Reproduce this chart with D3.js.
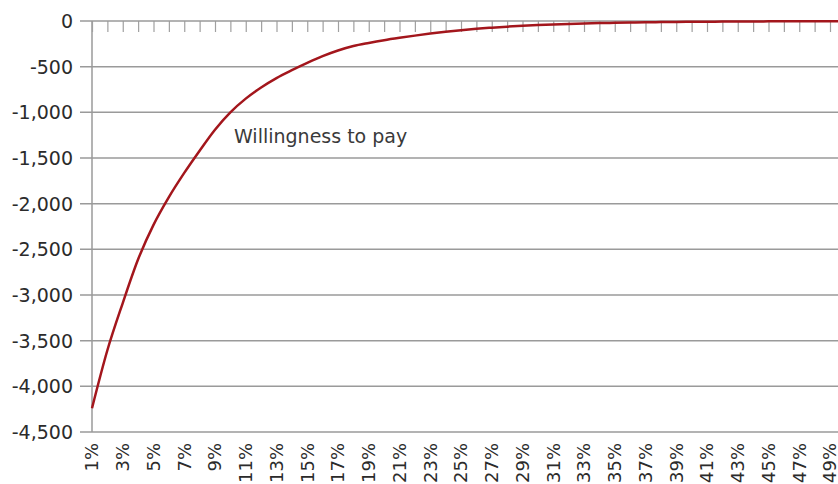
<!DOCTYPE html>
<html lang="en">
  <head>
    <meta charset="UTF-8" />
    <title>Willingness to pay</title>
    <script src="https://d3js.org/d3.v7.min.js"></script>
    <style>
      body {
        margin: 0;
        background: #fff;
      }
      svg {
        display: block;
        font-family: "DejaVu Sans", sans-serif;
      }
    </style>
  </head>
  <body>
    <div id="chart"></div>
    <script>
      // category labels along the (top) x axis: 1% .. 50%
      const categories = d3.range(1, 51).map((d) => d + "%");

      // willingness to pay
      const willingness = [
        -4240, -3605, -3088, -2609, -2232, -1928, -1663, -1420, -1190, -1000,
        -850, -728, -625, -539, -459, -385, -323, -274, -240, -210,
        -184, -160, -138, -118, -100, -85, -73, -62, -53, -45,
        -38, -32, -27, -23, -20, -17, -14, -12, -10, -9,
        -8, -6, -5, -5, -4, -3, -3, -2, -2, -2,
      ];

      const yTicks = [0, -500, -1000, -1500, -2000, -2500, -3000, -3500, -4000, -4500];
      const yTickLabels = ["0", "-500", "-1,000", "-1,500", "-2,000", "-2,500", "-3,000", "-3,500", "-4,000", "-4,500"];

      // only every other category gets a label
      const xLabelled = categories.filter((d, i) => i % 2 === 0);

      const seriesLabel = "Willingness to pay";

      const width = 838;
      const height = 484;
      const plotLeft = 92;
      const plotTop = 21;
      const plotBottom = 432;
      const step = 15.375;

      const svg = d3
        .select("#chart")
        .append("svg")
        .attr("width", width)
        .attr("height", height);

      const x = d3
        .scalePoint()
        .domain(categories)
        .range([plotLeft, plotLeft + step * (categories.length - 1)]);

      const y = d3.scaleLinear().domain([-4500, 0]).range([plotBottom, plotTop]);

      // horizontal gridlines (with the short outer tick on the left)
      svg
        .append("g")
        .selectAll("line")
        .data(yTicks.filter((d) => d !== 0))
        .enter()
        .append("line")
        .attr("x1", plotLeft - 12)
        .attr("x2", width)
        .attr("y1", (d) => y(d))
        .attr("y2", (d) => y(d))
        .attr("stroke", "#9a9a9a")
        .attr("stroke-width", 1.5);

      // y labels
      svg
        .append("g")
        .selectAll("text")
        .data(yTicks)
        .enter()
        .append("text")
        .attr("x", plotLeft - 19)
        .attr("y", (d) => y(d))
        .attr("dy", "0.36em")
        .attr("text-anchor", "end")
        .attr("font-size", 19)
        .attr("fill", "#2b2b2b")
        .text((d, i) => yTickLabels[i]);

      // vertical axis line
      svg
        .append("line")
        .attr("x1", plotLeft)
        .attr("x2", plotLeft)
        .attr("y1", plotTop)
        .attr("y2", plotBottom)
        .attr("stroke", "#9a9a9a")
        .attr("stroke-width", 1.5);

      // category axis sits at zero (top), ticks point down
      const xAxis = d3.axisBottom(x).tickSize(11).tickFormat("");

      const gx = svg
        .append("g")
        .attr("transform", `translate(0,${y(0)})`)
        .call(xAxis);
      gx.select(".domain").remove();
      gx.selectAll(".tick line")
        .attr("stroke", "#a0a0a0")
        .attr("stroke-width", 1.2);

      svg
        .append("line")
        .attr("x1", plotLeft - 12)
        .attr("x2", width)
        .attr("y1", y(0))
        .attr("y2", y(0))
        .attr("stroke", "#9a9a9a")
        .attr("stroke-width", 1.5);

      // rotated category labels below the plot
      svg
        .append("g")
        .selectAll("text")
        .data(xLabelled)
        .enter()
        .append("text")
        .attr("transform", (d) => `translate(${x(d)},443) rotate(-90)`)
        .attr("dy", "0.36em")
        .attr("text-anchor", "end")
        .attr("font-size", 18)
        .attr("fill", "#2b2b2b")
        .text((d) => d);

      // the curve
      const line = d3
        .line()
        .x((d, i) => x(categories[i]))
        .y((d) => y(d))
        .curve(d3.curveMonotoneX);

      svg
        .append("path")
        .datum(willingness)
        .attr("fill", "none")
        .attr("stroke", "#a3161c")
        .attr("stroke-width", 2.5)
        .attr("d", line);

      svg
        .append("text")
        .attr("x", 234)
        .attr("y", 142.5)
        .attr("font-size", 19)
        .attr("fill", "#3a3a3a")
        .text(seriesLabel);
    </script>
  </body>
</html>
